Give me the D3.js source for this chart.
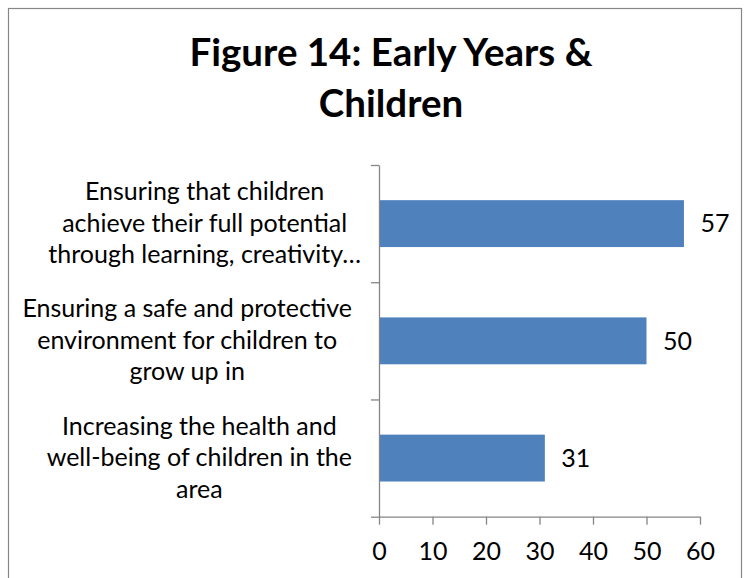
<!DOCTYPE html>
<html>
<head>
<meta charset="utf-8">
<script src="https://cdn.jsdelivr.net/npm/d3@7"></script>
<style>
  body { margin: 0; background: #fff; }
  svg text { font-family: Lato, 'Open Sans', sans-serif; fill: #000; }
</style>
</head>
<body>
<svg id="chart"></svg>
<script>
const width = 744
const height = 578

// data
const titleLines = ['Figure 14: Early Years &', 'Children']
const categories = [
  ['Ensuring that children', 'achieve their full potential', 'through learning, creativity…'],
  ['Ensuring a safe and protective', 'environment for children to', 'grow up in'],
  ['Increasing the health and', 'well-being of children in the', 'area']
]
const values = [57, 50, 31]
const xTicks = [0, 10, 20, 30, 40, 50, 60]

const labelSize = 25
const svg = d3.select('#chart').attr('width', width).attr('height', height)

// outer frame
svg.append('rect')
  .attr('x', 8.5).attr('y', 8.5)
  .attr('width', 733).attr('height', 600)
  .attr('fill', '#fff')
  .attr('stroke', '#868686')
  .attr('stroke-width', 1.2)

// title
svg.append('g')
  .selectAll('text')
  .data(titleLines)
  .enter()
  .append('text')
  .attr('x', 391)
  .attr('y', (d, i) => 66 + i * 51)
  .attr('text-anchor', 'middle')
  .attr('font-size', 38.5)
  .attr('font-weight', 'bold')
  .text(d => d)

const x = d3.scaleLinear().domain([0, 60]).range([379, 700])
const y = d3.scaleBand()
  .domain(d3.range(categories.length))
  .range([165, 516.7])
  .paddingInner(0.6)
  .paddingOuter(0.3)
// category boundaries for the axis ticks
const yEdge = d3.scaleLinear().domain([0, categories.length]).range([165, 516.7])

const grid = g => g.selectAll('line')
  .attr('stroke', '#868686')
  .attr('stroke-width', 1.3)

// vertical gridlines
svg.append('g')
  .selectAll('line')
  .data(xTicks.slice(1))
  .enter()
  .append('line')
  .attr('x1', d => x(d)).attr('x2', d => x(d))
  .attr('y1', 165).attr('y2', 516.7)
  .call(grid)

// bars
svg.append('g')
  .selectAll('rect')
  .data(values)
  .enter()
  .append('rect')
  .attr('x', x(0))
  .attr('y', (d, i) => y(i))
  .attr('width', d => x(d) - x(0))
  .attr('height', y.bandwidth())
  .attr('fill', '#4f81bd')

// value labels
svg.append('g')
  .selectAll('text')
  .data(values)
  .enter()
  .append('text')
  .attr('x', d => x(d) + 16.5)
  .attr('y', (d, i) => y(i) + y.bandwidth() / 2 + 8.7)
  .attr('font-size', labelSize)
  .text(d => d)

// x axis
const xAxis = svg.append('g')
  .attr('transform', 'translate(0,516.7)')
  .call(d3.axisBottom(x).tickValues(xTicks).tickSize(8).tickSizeOuter(0).tickPadding(18))
xAxis.select('.domain').attr('stroke', '#868686').attr('stroke-width', 1.3)
xAxis.selectAll('line').attr('stroke', '#868686').attr('stroke-width', 1.3)
xAxis.selectAll('text')
  .attr('font-size', labelSize)
  .attr('font-family', 'Lato, sans-serif')
  .attr('fill', '#000')

// y axis (ticks between categories)
const yAxis = svg.append('g')
  .attr('transform', 'translate(379,0)')
  .call(d3.axisLeft(yEdge).ticks(categories.length).tickSize(8).tickSizeOuter(0).tickFormat(''))
yAxis.select('.domain').attr('stroke', '#868686').attr('stroke-width', 1.3)
yAxis.selectAll('line').attr('stroke', '#868686').attr('stroke-width', 1.3)

// category labels, each block centred, block right edge at labelRight
const labelRight = 352
const lineGap = 31.5
const labels = svg.append('g')
categories.forEach((lines, i) => {
  const grp = labels.append('g')
  const cy = y(i) + y.bandwidth() / 2
  const texts = grp.selectAll('text')
    .data(lines)
    .enter()
    .append('text')
    .attr('font-size', labelSize)
    .attr('text-anchor', 'middle')
    .attr('y', (d, j) => cy + 8 + (j - (lines.length - 1) / 2) * lineGap)
    .text(d => d)
  // measure without trailing ellipsis
  let maxW = 0
  texts.each(function (d) {
    const probe = grp.append('text').attr('font-size', labelSize).text(d.replace(/…$/, ''))
    maxW = Math.max(maxW, probe.node().getComputedTextLength())
    probe.remove()
  })
  texts.attr('x', labelRight - maxW / 2)
})
</script>
</body>
</html>
